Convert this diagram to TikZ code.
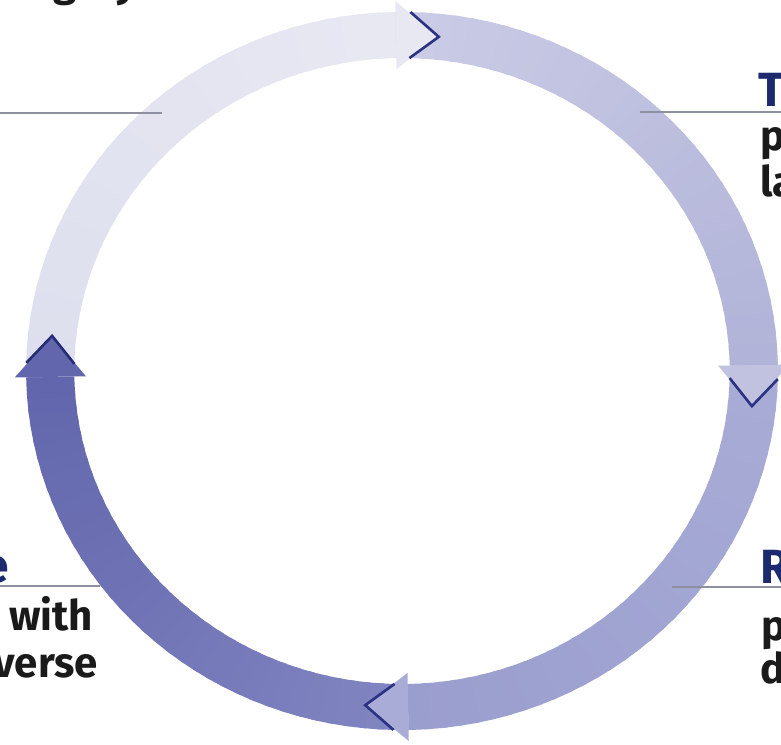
\documentclass[tikz,border=0pt]{standalone}
\usepackage{fontspec}
\setmainfont{Fira Sans}
\definecolor{sAa}{HTML}{DEDFEE}
\definecolor{sAb}{HTML}{E7E8F2}
\definecolor{sBa}{HTML}{CBCCE6}
\definecolor{sBb}{HTML}{B1B3D8}
\definecolor{sCa}{HTML}{A9ACD6}
\definecolor{sCb}{HTML}{9A9ECE}
\definecolor{sDa}{HTML}{8185C1}
\definecolor{sDb}{HTML}{6266AC}
\definecolor{chev}{HTML}{2B3282}
\definecolor{leadgray}{HTML}{8E909F}
\definecolor{headblue}{HTML}{1E2A6E}
\definecolor{txt}{HTML}{1A1A1A}
\def\Ri{313}
\def\Ro{359}
\def\Rc{336}
\def\Hi{302}
\def\Ho{370}
\newcommand{\ringseg}[4]{%
  \foreach \i in {0,...,35}{%
    \pgfmathsetmacro{\ta}{#1+(#2-#1)*max(\i-0.4,0)/36}%
    \pgfmathsetmacro{\tb}{#1+(#2-#1)*(\i+1)/36}%
    \pgfmathtruncatemacro{\pc}{100*\i/35}%
    \fill[#4!\pc!#3] (\ta:\Ro) arc[start angle=\ta, end angle=\tb, radius=\Ro]
      -- (\tb:\Ri) arc[start angle=\tb, end angle=\ta, radius=\Ri] -- cycle;
  }}
\newcommand{\ringhead}[3]{% tip angle, fill colour, chevron colour
  \pgfmathsetmacro{\hb}{#1+7}%
  \pgfmathsetmacro{\hc}{#1+4.7}%
  \fill[#2] (\hb:\Hi) -- (#1:\Rc) -- (\hb:\Ho) -- cycle;
  \draw[#3, line width=2.6pt, line join=miter] (\hc:\Ri) -- (#1:\Rc) -- (\hc:\Ro);
}
\tikzset{
  body/.style={font=\fontsize{42}{47}\selectfont\bfseries, text=txt, inner sep=0pt},
  heading/.style={font=\fontsize{48}{52}\selectfont\bfseries, text=headblue, inner sep=0pt},
  leader/.style={draw=leadgray, line width=1.8pt}
}
\begin{document}
\begin{tikzpicture}[x=1pt, y=-1pt]
\useasboundingbox (0,0) rectangle (781,744);
\fill[white] (0,0) rectangle (781,744);
% ring
\begin{scope}[shift={(402,371)}, xscale=1.047, yscale=-1]
  \ringseg{-89}{-179}{sDa}{sDb}
  \ringseg{181}{91}{sAa}{sAb}
  \ringseg{91}{1}{sBa}{sBb}
  \ringseg{1}{-89}{sCa}{sCb}
  \ringhead{84}{sAb}{chev}
  \ringhead{-6}{sBb!80!white}{chev}
  \ringhead{-96}{sCa}{chev}
  \ringhead{174}{sDb}{chev!90!black}
\end{scope}
% partial text at the top
\node[body, anchor=base] (topg) at (65,-4) {g};
\node[body, anchor=base] (topy) at (126,-4) {y};
% leader lines
\coordinate (ltA) at (0,113);
\coordinate (ltB) at (162,113);
\coordinate (rtA) at (640,112);
\coordinate (rtB) at (781,112);
\coordinate (rbA) at (672,587);
\coordinate (rbB) at (781,587);
\coordinate (lbA) at (0,586);
\coordinate (lbB) at (100,586);
\draw[leader] (ltA) -- (ltB);
\draw[leader] (rtA) -- (rtB);
\draw[leader] (rbA) -- (rbB);
\draw[leader] (lbA) -- (lbB);
% right top block
\node[heading, anchor=base west] (hT) at (758,106) {T};
\node[body, anchor=base west] (tp) at (760,150) {p};
\node[body, anchor=base west] (tla) at (760,196) {la};
% right bottom block
\node[heading, anchor=base west] (hR) at (760,583) {R};
\node[body, anchor=base west] (bp) at (761,640) {p};
\node[body, anchor=base west] (bd) at (760,683) {d};
% left bottom block
\node[heading, anchor=base east] (he) at (9,582) {e};
\node[body, anchor=base east] (lw) at (93,630) {with};
\node[body, anchor=base east] (lv) at (98,677) {verse};
\end{tikzpicture}
\end{document}
